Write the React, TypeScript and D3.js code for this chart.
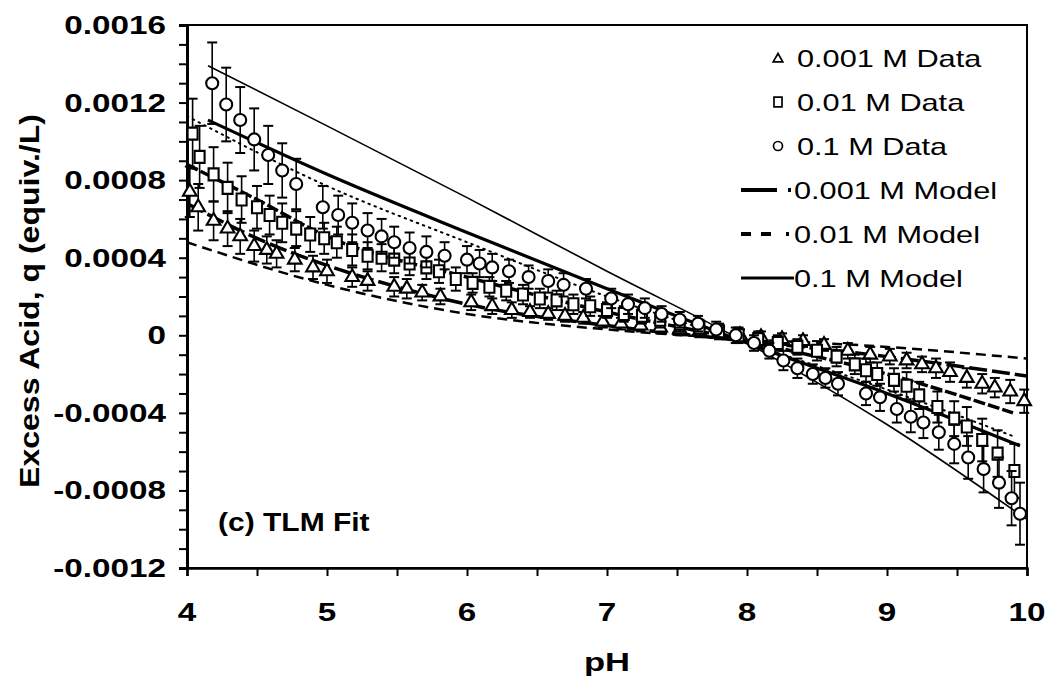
import React, { useEffect, useRef } from 'react';
import * as d3 from 'd3';

// 0.001 M data (triangles)
const phLow = [4.02, 4.08, 4.19, 4.29, 4.38, 4.48, 4.57, 4.64, 4.77, 4.90, 5.00, 5.18, 5.29, 5.48, 5.57, 5.68, 5.81, 6.03, 6.18, 6.32, 6.45, 6.58, 6.70, 6.83, 6.97, 7.10, 7.24, 7.38, 7.52, 7.66, 7.80, 7.95, 8.10, 8.25, 8.40, 8.55, 8.72, 8.88, 9.02, 9.14, 9.25, 9.35, 9.45, 9.57, 9.68, 9.77, 9.88, 9.98];
const qLow = [0.00074, 0.00066, 0.00059, 0.00055, 0.00051, 0.00046, 0.00044, 0.00042, 0.00039, 0.00035, 0.00033, 0.00030, 0.00028, 0.00025, 0.00024, 0.00022, 0.00020, 0.00017, 0.00015, 0.00013, 0.00012, 0.00011, 0.00010, 0.00009, 0.00007, 0.00006, 0.00005, 0.00004, 0.00003, 0.00002, 0.00001, 0.0, -0.00001, -0.00002, -0.00003, -0.00005, -0.00008, -0.00010, -0.00011, -0.00013, -0.00015, -0.00017, -0.00019, -0.00022, -0.00025, -0.00027, -0.00029, -0.00034];
const errLow = [0.00013, 0.00012, 0.00010, 0.00009, 0.00009, 0.00008, 0.00007, 0.00007, 0.00006, 0.00006, 0.00006, 0.00005, 0.00005, 0.00005, 0.00005, 0.00004, 0.00004, 0.00004, 0.00004, 0.00004, 0.00003, 0.00003, 0.00003, 0.00003, 0.00003, 0.00003, 0.00003, 0.00003, 0.00003, 0.00003, 0.00003, 0.00003, 0.00003, 0.00003, 0.00003, 0.00003, 0.00004, 0.00004, 0.00004, 0.00004, 0.00004, 0.00005, 0.00005, 0.00005, 0.00005, 0.00005, 0.00006, 0.00006];

// 0.01 M data (squares)
const phMid = [4.04, 4.09, 4.19, 4.29, 4.39, 4.50, 4.59, 4.68, 4.78, 4.88, 4.98, 5.07, 5.18, 5.29, 5.39, 5.48, 5.59, 5.71, 5.80, 5.92, 6.04, 6.16, 6.28, 6.40, 6.52, 6.64, 6.76, 6.88, 7.00, 7.12, 7.25, 7.38, 7.52, 7.66, 7.80, 7.94, 8.08, 8.22, 8.36, 8.50, 8.64, 8.77, 8.85, 8.93, 9.05, 9.14, 9.23, 9.36, 9.48, 9.57, 9.68, 9.79, 9.91];
const qMid = [0.00104, 0.00092, 0.00083, 0.00076, 0.00070, 0.00066, 0.00062, 0.00058, 0.00055, 0.00052, 0.00050, 0.00048, 0.00044, 0.00041, 0.00040, 0.00039, 0.00037, 0.00035, 0.00033, 0.00029, 0.00027, 0.00025, 0.00023, 0.00021, 0.00019, 0.00018, 0.00016, 0.00015, 0.00013, 0.00011, 0.00010, 0.00008, 0.00006, 0.00004, 0.00002, 0.0, -0.00002, -0.00004, -0.00006, -0.00008, -0.00011, -0.00015, -0.00018, -0.00020, -0.00023, -0.00026, -0.00031, -0.00037, -0.00043, -0.00047, -0.00054, -0.00061, -0.00070];
const errMid = [0.00018, 0.00016, 0.00014, 0.00013, 0.00012, 0.00011, 0.00010, 0.00010, 0.00009, 0.00009, 0.00008, 0.00008, 0.00008, 0.00007, 0.00007, 0.00007, 0.00006, 0.00006, 0.00006, 0.00006, 0.00005, 0.00005, 0.00005, 0.00005, 0.00005, 0.00005, 0.00005, 0.00005, 0.00004, 0.00004, 0.00004, 0.00004, 0.00004, 0.00004, 0.00004, 0.00004, 0.00004, 0.00004, 0.00004, 0.00005, 0.00005, 0.00005, 0.00006, 0.00006, 0.00006, 0.00007, 0.00007, 0.00008, 0.00009, 0.00010, 0.00011, 0.00012, 0.00014];

// 0.1 M data (circles)
const phHigh = [4.18, 4.28, 4.38, 4.48, 4.58, 4.68, 4.78, 4.97, 5.08, 5.18, 5.29, 5.39, 5.48, 5.59, 5.71, 5.84, 6.00, 6.09, 6.18, 6.30, 6.44, 6.58, 6.69, 6.85, 7.03, 7.15, 7.27, 7.39, 7.52, 7.65, 7.78, 7.92, 8.05, 8.16, 8.26, 8.36, 8.47, 8.56, 8.65, 8.85, 8.95, 9.07, 9.17, 9.26, 9.37, 9.48, 9.58, 9.69, 9.80, 9.89, 9.95];
const qHigh = [0.00130, 0.00119, 0.00111, 0.00101, 0.00093, 0.00085, 0.00078, 0.00066, 0.00062, 0.00058, 0.00054, 0.00051, 0.00048, 0.00045, 0.00043, 0.00041, 0.00039, 0.00037, 0.00035, 0.00033, 0.00030, 0.00028, 0.00026, 0.00024, 0.00019, 0.00016, 0.00014, 0.00011, 0.00008, 0.00006, 0.00003, 0.0, -0.00004, -0.00008, -0.00013, -0.00017, -0.00020, -0.00022, -0.00025, -0.00030, -0.00032, -0.00038, -0.00042, -0.00045, -0.00050, -0.00056, -0.00063, -0.00069, -0.00076, -0.00084, -0.00092];
const errHigh = [0.00021, 0.00019, 0.00017, 0.00016, 0.00015, 0.00014, 0.00013, 0.00011, 0.00010, 0.00010, 0.00009, 0.00009, 0.00008, 0.00008, 0.00008, 0.00007, 0.00007, 0.00007, 0.00007, 0.00006, 0.00006, 0.00006, 0.00006, 0.00005, 0.00005, 0.00005, 0.00005, 0.00004, 0.00004, 0.00004, 0.00004, 0.00004, 0.00004, 0.00004, 0.00005, 0.00005, 0.00005, 0.00005, 0.00006, 0.00006, 0.00007, 0.00007, 0.00008, 0.00008, 0.00009, 0.00010, 0.00011, 0.00012, 0.00013, 0.00014, 0.00016];

// model curves
const phThinSolid = [4.15, 5, 6, 7, 8, 9, 10];
const qThinSolid = [0.00139, 0.00108, 0.00071, 0.00033, -0.00004, -0.00046, -0.00095];
const phThickSolid = [4.15, 5, 6, 7, 8, 9, 9.95];
const qThickSolid = [0.00111, 0.00083, 0.00053, 0.00024, -0.00004, -0.00030, -0.00057];
const phDotted = [4.0, 5, 6, 7, 8, 9, 9.9];
const qDotted = [0.00113, 0.00077, 0.00048, 0.00020, -0.00004, -0.00028, -0.00052];
const phMidModel = [4.0, 4.5, 5, 6, 7, 8, 9, 9.9];
const qMidModel = [0.00088, 0.00070, 0.00051, 0.00030, 0.00012, -0.00003, -0.00020, -0.00040];
const phLowModel = [4.0, 4.5, 5, 5.5, 6, 7, 8, 9, 10];
const qLowModel = [0.00068, 0.00050, 0.00036, 0.00025, 0.00016, 0.00005, -0.00003, -0.00011, -0.00021];
const phThinDash = [4.0, 5, 6, 7, 8, 9, 10];
const qThinDash = [0.00048, 0.00026, 0.00011, 0.00003, -0.00002, -0.00006, -0.00012];

const yMajor = [-0.0012, -0.0008, -0.0004, 0, 0.0004, 0.0008, 0.0012, 0.0016];
const xMajor = [4, 5, 6, 7, 8, 9, 10];
const legendLabels = ['0.001 M Data', '0.01 M Data', '0.1 M Data', '0.001 M Model', '0.01 M Model', '0.1 M Model'];

const SX = 1.33; // horizontal stretch of the scanned lettering
const FONT = "'Liberation Sans', Arial, Helvetica, sans-serif";

const App = () => {
    const svgRef = useRef<SVGSVGElement>(null);

    useEffect(() => {
        const svg = d3.select(svgRef.current);
        svg.selectAll('*').remove();

        const x = d3.scaleLinear().domain([4, 10]).range([187, 1027]);
        const y = d3.scaleLinear().domain([-0.0012, 0.0016]).range([568, 25]);

        const g = svg.append('g');

        // frame
        g.append('rect')
            .attr('x', x(4)).attr('y', y(0.0016))
            .attr('width', x(10) - x(4)).attr('height', y(-0.0012) - y(0.0016))
            .attr('fill', 'none').attr('stroke', '#000').attr('stroke-width', 2);

        // y axis ticks (minor every 0.0001)
        const yMinor = d3.range(-12, 17).map(i => i * 0.0001);
        g.append('g')
            .attr('transform', `translate(${x(4)},0)`)
            .call(d3.axisLeft(y).tickValues(yMinor).tickSize(8).tickFormat(() => ''))
            .call(s => s.select('.domain').attr('stroke-width', 3))
            .call(s => s.selectAll('.tick line').attr('stroke-width', 2));

        // x axis ticks (every 0.5)
        const xMinor = d3.range(8, 21).map(i => i / 2);
        g.append('g')
            .attr('transform', `translate(0,${y(-0.0012)})`)
            .call(d3.axisBottom(x).tickValues(xMinor).tickSize(8).tickFormat(() => ''))
            .call(s => s.select('.domain').attr('stroke-width', 2.5))
            .call(s => s.selectAll('.tick line').attr('stroke-width', 2));

        // tick labels
        g.append('g').selectAll('text')
            .data(yMajor)
            .join('text')
            .attr('transform', d => `translate(166,${y(d)}) scale(${SX},1)`)
            .attr('dy', '0.36em')
            .attr('text-anchor', 'end')
            .style('font-family', FONT).style('font-weight', 'bold').style('font-size', '25px')
            .text(d => d === 0 ? '0' : d.toFixed(4));

        g.append('g').selectAll('text')
            .data(xMajor)
            .join('text')
            .attr('transform', d => `translate(${x(d)},612) scale(${SX},1)`)
            .attr('dy', '0.36em')
            .attr('text-anchor', 'middle')
            .style('font-family', FONT).style('font-weight', 'bold').style('font-size', '25px')
            .text(d => String(d));

        // axis titles
        g.append('text')
            .attr('transform', `translate(${(x(4) + x(10)) / 2},662) scale(${SX},1)`)
            .attr('dy', '0.36em').attr('text-anchor', 'middle')
            .style('font-family', FONT).style('font-weight', 'bold').style('font-size', '26px')
            .text('pH');
        g.append('text')
            .attr('transform', 'translate(29,301) rotate(-90)')
            .attr('dy', '0.36em').attr('text-anchor', 'middle')
            .attr('textLength', 374).attr('lengthAdjust', 'spacingAndGlyphs')
            .style('font-family', FONT).style('font-weight', 'bold').style('font-size', '28px')
            .text('Excess Acid, q (equiv./L)');

        g.append('text')
            .attr('transform', `translate(218,522) scale(1.2,1)`)
            .attr('dy', '0.36em')
            .style('font-family', FONT).style('font-weight', 'bold').style('font-size', '25px')
            .text('(c) TLM Fit');

        // model curves
        const line = d3.line<[number, number]>()
            .x(d => x(d[0]))
            .y(d => y(d[1]))
            .curve(d3.curveMonotoneX);
        const curves = [
            { ph: phThinDash, q: qThinDash, w: 2.5, dash: '10,6' },
            { ph: phLowModel, q: qLowModel, w: 3.5, dash: '18,5' },
            { ph: phMidModel, q: qMidModel, w: 3.5, dash: '12,3' },
            { ph: phDotted, q: qDotted, w: 2, dash: '1.5,5' },
            { ph: phThickSolid, q: qThickSolid, w: 3.2, dash: null },
            { ph: phThinSolid, q: qThinSolid, w: 1.6, dash: null },
        ];
        g.append('g').selectAll('path')
            .data(curves)
            .join('path')
            .attr('d', c => line(c.ph.map((p, i) => [p, c.q[i]] as [number, number])))
            .attr('fill', 'none')
            .attr('stroke', '#000')
            .attr('stroke-width', c => c.w)
            .attr('stroke-dasharray', c => c.dash)
            .attr('stroke-linecap', c => c.dash === '1.5,5' ? 'round' : 'butt');

        // data with error bars
        const triangle = d3.symbol(d3.symbolTriangle, 80);
        const square = (s: number) => `M${-s / 2},${-s * 0.6}h${s}v${s * 1.2}h${-s}Z`;
        const series = [
            { ph: phLow, q: qLow, err: errLow, shape: 'tri' },
            { ph: phMid, q: qMid, err: errMid, shape: 'sq' },
            { ph: phHigh, q: qHigh, err: errHigh, shape: 'circ' },
        ];
        series.forEach(s => {
            const pts = s.ph.map((p, i) => ({ p, q: s.q[i], e: s.err[i] }));
            const sg = g.append('g');
            const bars = sg.selectAll('g.bar').data(pts).join('g').attr('class', 'bar');
            bars.append('line')
                .attr('x1', d => x(d.p)).attr('x2', d => x(d.p))
                .attr('y1', d => y(d.q + d.e)).attr('y2', d => y(d.q - d.e))
                .attr('stroke', '#000').attr('stroke-width', 1.6);
            bars.append('line')
                .attr('x1', d => x(d.p) - 5).attr('x2', d => x(d.p) + 5)
                .attr('y1', d => y(d.q + d.e)).attr('y2', d => y(d.q + d.e))
                .attr('stroke', '#000').attr('stroke-width', 2);
            bars.append('line')
                .attr('x1', d => x(d.p) - 5).attr('x2', d => x(d.p) + 5)
                .attr('y1', d => y(d.q - d.e)).attr('y2', d => y(d.q - d.e))
                .attr('stroke', '#000').attr('stroke-width', 2);
            const marks = sg.selectAll('path.mark').data(pts).join('path').attr('class', 'mark')
                .attr('transform', d => `translate(${x(d.p)},${y(d.q)})`)
                .attr('fill', 'white').attr('stroke', '#000').attr('stroke-width', 2.1);
            if (s.shape === 'tri') marks.attr('d', triangle());
            else if (s.shape === 'sq') marks.attr('d', square(10));
            else marks.attr('d', d3.arc()({ innerRadius: 0, outerRadius: 6, startAngle: 0, endAngle: 2 * Math.PI }));
        });

        // legend
        const lg = g.append('g');
        const rowY = (i: number) => 58 + i * 44;
        const textX = [797, 797, 797, 794, 794, 794];
        legendLabels.forEach((lab, i) => {
            lg.append('text')
                .attr('transform', `translate(${textX[i]},${rowY(i)}) scale(1.28,1)`)
                .attr('dy', '0.36em')
                .style('font-family', FONT).style('font-size', '24px')
                .text(lab);
        });
        lg.append('path').attr('d', d3.symbol(d3.symbolTriangle, 40)())
            .attr('transform', `translate(778,${rowY(0) + 1})`)
            .attr('fill', 'white').attr('stroke', '#000').attr('stroke-width', 1.7);
        lg.append('path').attr('d', square(8))
            .attr('transform', `translate(778,${rowY(1)})`)
            .attr('fill', 'white').attr('stroke', '#000').attr('stroke-width', 1.7);
        lg.append('circle').attr('cx', 778).attr('cy', rowY(2)).attr('r', 4.5)
            .attr('fill', 'white').attr('stroke', '#000').attr('stroke-width', 1.7);
        const samples = [
            { x2: 792, dash: '36,11,3,20', w: 4 },
            { x2: 792, dash: '10,10,10,15,3,20', w: 4 },
            { x2: 794, dash: null, w: 3 },
        ];
        samples.forEach((s, i) => {
            lg.append('line')
                .attr('x1', 741).attr('x2', s.x2)
                .attr('y1', rowY(3 + i)).attr('y2', rowY(3 + i))
                .attr('stroke', '#000').attr('stroke-width', s.w)
                .attr('stroke-dasharray', s.dash);
        });
    }, []);

    return (
        <svg
            ref={svgRef}
            width={1050}
            height={681}
            style={{ position: 'absolute', left: 0, top: 0, background: 'white' }}
        />
    );
};

export default App;
